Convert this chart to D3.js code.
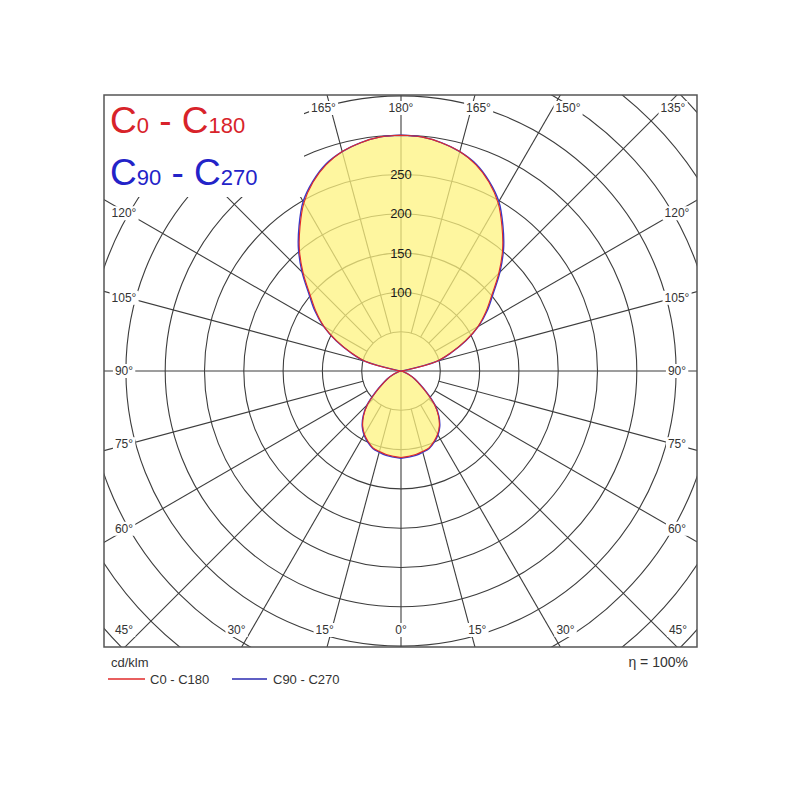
<!DOCTYPE html>
<html><head><meta charset="utf-8">
<script src="https://cdn.jsdelivr.net/npm/d3@7"></script>
<style>body{margin:0;background:#fff} svg{display:block;font-family:"Liberation Sans",Arial,sans-serif}</style>
</head><body><svg id="c" width="800" height="800"></svg>
<script>
// gamma angles (deg), 0 = straight down, 180 = straight up
const gammaDeg = [0,5,10,15,20,25,30,35,40,45,50,55,60,65,70,75,80,85,90,95,100,105,110,115,120,125,130,135,140,145,150,155,160,165,170,175,180];
// luminous intensity, cd/klm
const c0c180  = [110,109,108,106,104,99,93,85,74,60,42,28,20,12,5,1,0,0,0,0,6,46,67,90,113,132,151,176,201,224,247,265,279,289,295,299,300];
const c90c270 = [111,110,109,107,105,100,94,86,75,61,43,29,20,12,5,1,0,0,0,0,6,47,68,91,114,134,153,178,203,226,249,266,280,289,295,299,300];
const ringValues = [50,100,150,200,250,300,350,400,450,500];
const ringLabels = [100,150,200,250];
const spokeAngles = [0,15,30,45,60,75,90,105,120,135,150,165,180,195,210,225,240,255,270,285,300,315,330,345];
const topLabels = [{t:"165°",g:165,s:-1},{t:"180°",g:180,s:1},{t:"165°",g:165,s:1},{t:"150°",g:150,s:1},{t:"135°",g:135,s:1}];
const sideLabels = [{t:"120°",g:120},{t:"105°",g:105},{t:"90°",g:90},{t:"75°",g:75},{t:"60°",g:60}];
const bottomLabels = [{t:"45°",g:45,s:-1},{t:"30°",g:30,s:-1},{t:"15°",g:15,s:-1},{t:"0°",g:0,s:1},{t:"15°",g:15,s:1},{t:"30°",g:30,s:1},{t:"45°",g:45,s:1}];

const svg = d3.select("#c");
const cx = 401, cy = 371;
const box = {x0:104, y0:95, x1:697, y1:647};
const r = d3.scaleLinear().domain([0,500]).range([0,393]);
const rad = d => d*Math.PI/180;

svg.append("defs").append("clipPath").attr("id","clip")
  .append("rect").attr("x",box.x0).attr("y",box.y0).attr("width",box.x1-box.x0).attr("height",box.y1-box.y0);

const g = svg.append("g").attr("clip-path","url(#clip)");
const gridColor = "#3d3d3d";
g.selectAll("circle.ring").data(ringValues).join("circle")
  .attr("cx",cx).attr("cy",cy).attr("r",d=>r(d))
  .attr("fill","none").attr("stroke",gridColor).attr("stroke-width",1.1);
g.selectAll("line.spoke").data(spokeAngles).join("line")
  .each(function(a){
    const r0 = (a%90===0) ? 0 : r(50), r1 = r(800);
    d3.select(this)
      .attr("x1",cx+r0*Math.sin(rad(a))).attr("y1",cy-r0*Math.cos(rad(a)))
      .attr("x2",cx+r1*Math.sin(rad(a))).attr("y2",cy-r1*Math.cos(rad(a)));
  })
  .attr("stroke",gridColor).attr("stroke-width",1.1);

// white panel behind the big legend
svg.append("rect").attr("x",box.x0).attr("y",box.y0).attr("width",200).attr("height",102).attr("fill","#fff");

// photometric curve: right half = C0 / C90, left half = C180 / C270
function pts(vals){
  const right = gammaDeg.map((gm,i)=>[Math.PI - rad(gm), r(vals[i])]);
  const left = gammaDeg.slice().reverse().map((gm,k)=>{const i=gammaDeg.length-1-k; return [Math.PI + rad(gm), r(vals[i])];});
  return right.concat(left);
}
const lr = d3.lineRadial().angle(d=>d[0]).radius(d=>d[1]).curve(d3.curveCatmullRomClosed.alpha(0.5));
const lobe = svg.append("g").attr("transform",`translate(${cx},${cy})`);
lobe.append("path").attr("d",lr(pts(c90c270))).attr("fill","#fdf37f").attr("fill-opacity",0.75);
lobe.append("path").attr("d",lr(pts(c90c270))).attr("fill","none").attr("stroke","#3a3ac8").attr("stroke-width",1.4);
lobe.append("path").attr("d",lr(pts(c0c180))).attr("fill","none").attr("stroke","#e02a2a").attr("stroke-width",1.1);

// ring value labels
svg.selectAll("text.rl").data(ringLabels).join("text")
  .attr("x",cx).attr("y",d=>cy-r(d)).attr("text-anchor","middle").attr("dominant-baseline","central")
  .attr("font-size",13).attr("fill","#1a1a1a").text(d=>d);

// angle labels with white backing
function angleLabel(x,y,t){
  const tg = svg.append("g");
  const txt = tg.append("text").attr("x",x).attr("y",y).attr("text-anchor","middle").attr("dominant-baseline","central")
    .attr("font-size",12).attr("fill","#333").text(t);
  const bb = txt.node().getBBox();
  tg.insert("rect","text").attr("x",bb.x-2).attr("y",bb.y).attr("width",bb.width+4).attr("height",bb.height).attr("fill","#fff");
}
topLabels.forEach(d=>{
  const th = 180-d.g;
  const dx = Math.min(263*Math.tan(rad(th))*1.1, 272);
  angleLabel(cx + d.s*dx, 108, d.t);
});
sideLabels.forEach(d=>{
  const phi = d.g-90;
  const dy = 276*Math.tan(rad(phi))*0.99;
  angleLabel(cx-277, cy-dy, d.t);
  angleLabel(cx+276, cy-dy, d.t);
});
bottomLabels.forEach(d=>{
  const dx = Math.min(259*Math.tan(rad(d.g))*1.1, 277);
  angleLabel(cx + d.s*dx, 630, d.t);
});

// frame
svg.append("rect").attr("x",box.x0).attr("y",box.y0).attr("width",box.x1-box.x0).attr("height",box.y1-box.y0)
  .attr("fill","none").attr("stroke","#555").attr("stroke-width",1.5);

// big legend top-left
function bigLegend(y, color, a, b){
  const t = svg.append("text").attr("x",110).attr("y",y).attr("fill",color);
  t.append("tspan").attr("font-size",37).text("C");
  t.append("tspan").attr("font-size",22).text(a);
  t.append("tspan").attr("font-size",37).text(" - C");
  t.append("tspan").attr("font-size",22).text(b);
}
bigLegend(133,"#d8232a","0","180");
bigLegend(185,"#2323c8","90","270");

// bottom legend
svg.append("text").attr("x",111).attr("y",667).attr("font-size",13).attr("fill","#333").text("cd/klm");
svg.append("line").attr("x1",108).attr("x2",145).attr("y1",679).attr("y2",679).attr("stroke","#e02a2a").attr("stroke-width",1.3);
svg.append("text").attr("x",150).attr("y",684).attr("font-size",13).attr("fill","#333").text("C0 - C180");
svg.append("line").attr("x1",232).attr("x2",267).attr("y1",679).attr("y2",679).attr("stroke","#2a2ab0").attr("stroke-width",1.3);
svg.append("text").attr("x",273).attr("y",684).attr("font-size",13).attr("fill","#333").text("C90 - C270");
svg.append("text").attr("x",688).attr("y",667).attr("text-anchor","end").attr("font-size",14).attr("fill","#333").text("η = 100%");
</script></body></html>
